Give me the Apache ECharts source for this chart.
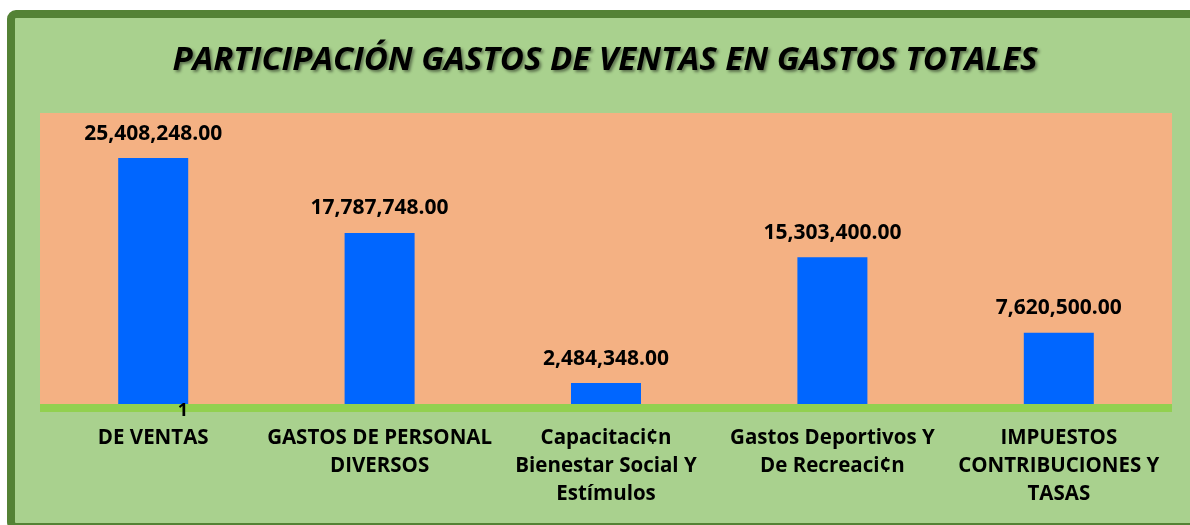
<!DOCTYPE html>
<html>
<head>
<meta charset="utf-8">
<script src="https://cdn.jsdelivr.net/npm/echarts@6/dist/echarts.min.js"></script>
<style>
html,body{margin:0;padding:0;background:#fff;}
#c{width:1190px;height:525px;}
</style>
</head>
<body>
<div id="c"></div>
<script>
const titleText = 'PARTICIPACIÓN GASTOS DE VENTAS EN GASTOS TOTALES';
const categories = [
  'DE VENTAS',
  'GASTOS DE PERSONAL\nDIVERSOS',
  'Capacitaci¢n\nBienestar Social Y\nEstímulos',
  'Gastos Deportivos Y\nDe Recreaci¢n',
  'IMPUESTOS\nCONTRIBUCIONES Y\nTASAS'
];
const values = [25408248.00, 17787748.00, 2484348.00, 15303400.00, 7620500.00];
const groupLabel = '1';
const yMin = 0;
const yMax = 30000000;

const FONT = '"Open Sans", "Liberation Sans", sans-serif';
const chart = echarts.init(document.getElementById('c'), null, {renderer: 'canvas'});

function fmt(v) {
  return v.toLocaleString('en-US', {minimumFractionDigits: 2, maximumFractionDigits: 2});
}

chart.setOption({
  backgroundColor: '#ffffff',
  animation: false,
  graphic: [
    {
      type: 'rect', z: -10, silent: true,
      shape: {x: 11, y: 14, width: 1220, height: 513, r: 5},
      style: {fill: '#A9D18E', stroke: '#548235', lineWidth: 8}
    },
    {
      type: 'text', z: 100, silent: true,
      x: 183, y: 411,
      style: {
        text: groupLabel, fill: '#000', fontFamily: FONT, fontWeight: 'bold',
        fontSize: 18, align: 'center', verticalAlign: 'middle'
      }
    }
  ],
  title: {
    text: titleText,
    left: 605,
    textAlign: 'center',
    top: 44,
    padding: 0,
    textStyle: {
      fontFamily: FONT, fontSize: 33, fontWeight: 'bold', fontStyle: 'italic',
      color: '#000',
      textShadowColor: 'rgba(0,0,0,0.45)', textShadowBlur: 3,
      textShadowOffsetX: 2, textShadowOffsetY: 2
    }
  },
  grid: {
    left: 40, right: 18, top: 113, bottom: 117.5,
    show: true, backgroundColor: '#F4B183', borderWidth: 0,
    containLabel: false
  },
  xAxis: {
    type: 'category',
    data: categories,
    z: 5,
    axisLine: {show: true, lineStyle: {color: '#92D050', width: 8, cap: 'butt'}},
    axisTick: {show: false},
    splitLine: {show: false},
    axisLabel: {
      interval: 0, margin: 17,
      color: '#000', fontFamily: FONT, fontWeight: 'bold', fontSize: 20.5,
      lineHeight: 28, align: 'center'
    }
  },
  yAxis: {
    type: 'value', min: yMin, max: yMax,
    show: false,
    splitLine: {show: false}
  },
  series: [{
    type: 'bar',
    data: values,
    barWidth: 70,
    itemStyle: {color: '#0066FF'},
    label: {
      show: true, position: 'top', distance: 14,
      formatter: p => fmt(p.value),
      color: '#000', fontFamily: FONT, fontWeight: 'bold', fontSize: 21
    }
  }]
});
</script>
</body>
</html>
